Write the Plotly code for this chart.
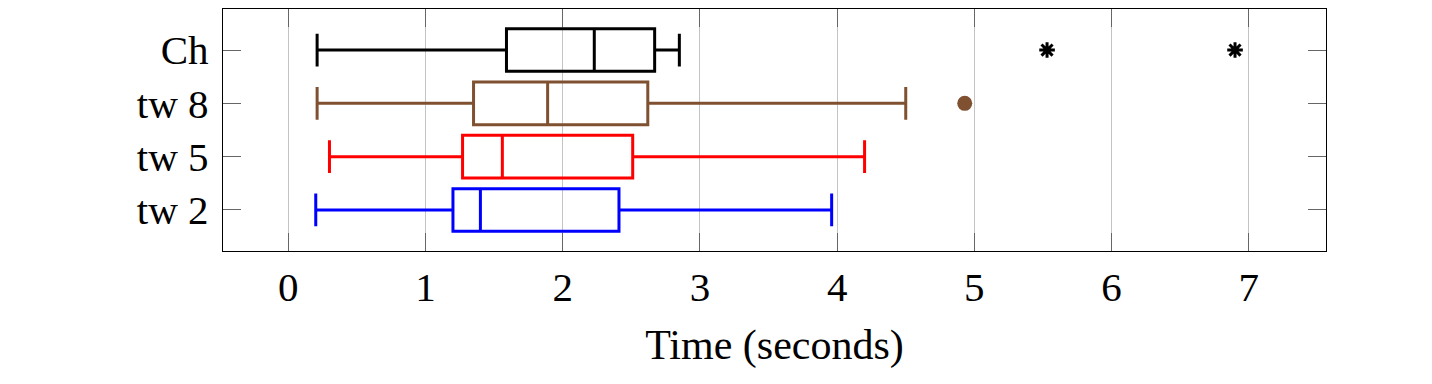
import plotly.graph_objects as go

# box plot stats (seconds)
labels = ["tw 2", "tw 5", "tw 8", "Ch"]
colors = ["#0000ff", "#ff0000", "#7f5130", "#000000"]
low = [0.20, 0.30, 0.21, 0.21]
q1 = [1.20, 1.27, 1.35, 1.59]
med = [1.40, 1.56, 1.89, 2.23]
q3 = [2.41, 2.51, 2.62, 2.67]
high = [3.96, 4.20, 4.50, 2.85]
outliers = [[], [], [4.93], [5.53, 6.90]]
outlier_symbol = ["circle", "circle", "circle", "asterisk"]

font = "Liberation Serif"

fig = go.Figure()
for i, lab in enumerate(labels):
    pos = i + 1
    fig.add_trace(go.Box(
        y=[pos], q1=[q1[i]], median=[med[i]], q3=[q3[i]],
        lowerfence=[low[i]], upperfence=[high[i]],
        orientation="h", width=0.8, whiskerwidth=0.77,
        line=dict(color=colors[i], width=3),
        fillcolor="rgba(0,0,0,0)", boxpoints=False, name=lab,
        hoverinfo="skip",
    ))
    if outliers[i]:
        if outlier_symbol[i] == "asterisk":
            mk = dict(symbol="asterisk", size=13, color=colors[i],
                      line=dict(color=colors[i], width=3))
        else:
            mk = dict(symbol="circle", size=15, color=colors[i], line=dict(width=0))
        fig.add_trace(go.Scatter(x=outliers[i], y=[pos] * len(outliers[i]),
                                 mode="markers", marker=mk, showlegend=False))

# page has an 8px body margin, so the figure is 16px smaller than the window
fig.update_layout(
    width=1416, height=368,
    margin=dict(l=215, r=98, t=1, b=125),
    paper_bgcolor="white", plot_bgcolor="white",
    showlegend=False, boxmode="overlay",
    font=dict(family=font, size=41, color="black"),
)
fig.update_xaxes(
    range=[-0.476, 7.563], tickvals=list(range(0, 8)),
    showgrid=True, gridcolor="#c4c4c4", gridwidth=1.3, zeroline=False,
    showline=True, linecolor="black", linewidth=1.4, mirror="ticks",
    ticks="inside", ticklen=18, tickcolor="#666", tickwidth=1.2,
    title=dict(text="Time (seconds)", standoff=20, font=dict(size=42)),
    ticklabelstandoff=0,
)
fig.update_yaxes(
    range=[0.23, 4.77], tickvals=[1, 2, 3, 4], ticktext=labels,
    showgrid=False, zeroline=False,
    showline=True, linecolor="black", linewidth=1.4, mirror="ticks",
    ticks="inside", ticklen=18, tickcolor="#666", tickwidth=1.2,
    ticklabelstandoff=5,
)

fig.write_html("out.html")
